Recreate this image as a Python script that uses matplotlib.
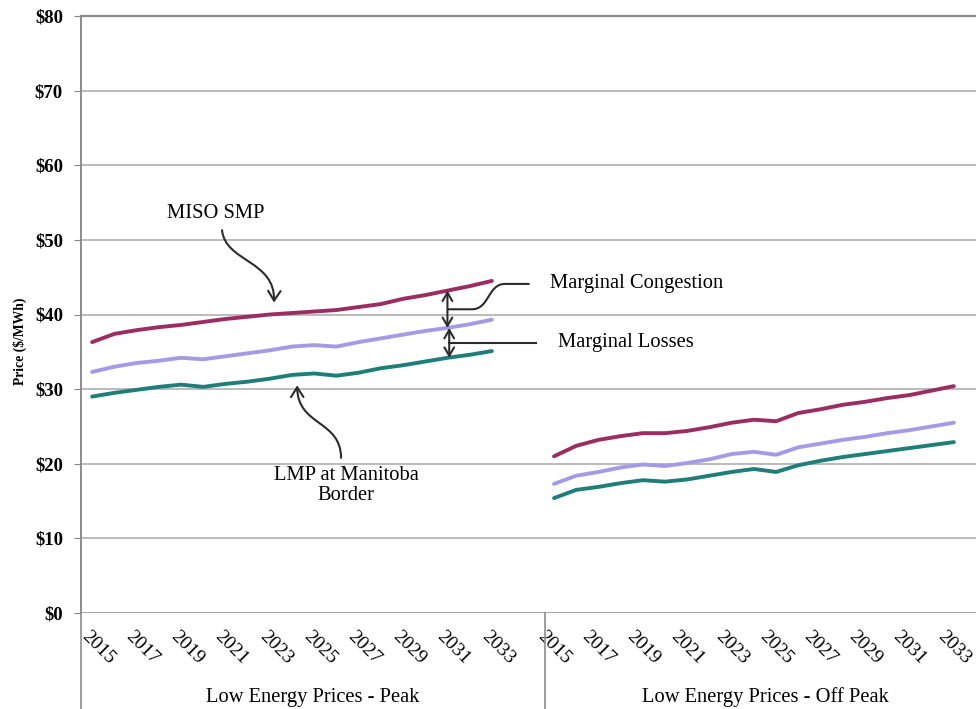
import numpy as np
import matplotlib.pyplot as plt
from matplotlib.path import Path
from matplotlib.patches import FancyArrowPatch, PathPatch
from matplotlib.transforms import ScaledTranslation

plt.rcParams['font.family'] = ['Liberation Serif', 'DejaVu Serif']

# ---------------------------------------------------------------------------
# data ($/MWh)
# ---------------------------------------------------------------------------
years = list(range(2015, 2034))
tick_years = years[::2]
group_names = ['Low Energy Prices - Peak', 'Low Energy Prices - Off Peak']

miso_peak = [36.3, 37.4, 37.9, 38.3, 38.6, 39.0, 39.4, 39.7, 40.0, 40.2,
             40.4, 40.6, 41.0, 41.4, 42.1, 42.6, 43.2, 43.8, 44.5]
loss_peak = [32.3, 33.0, 33.5, 33.8, 34.2, 34.0, 34.4, 34.8, 35.2, 35.7,
             35.9, 35.7, 36.3, 36.8, 37.3, 37.8, 38.2, 38.7, 39.3]
lmp_peak = [29.0, 29.5, 29.9, 30.3, 30.6, 30.3, 30.7, 31.0, 31.4, 31.9,
            32.1, 31.8, 32.2, 32.8, 33.2, 33.7, 34.2, 34.6, 35.1]

miso_off = [21.0, 22.4, 23.2, 23.7, 24.1, 24.1, 24.4, 24.9, 25.5, 25.9,
            25.7, 26.8, 27.3, 27.9, 28.3, 28.8, 29.2, 29.8, 30.4]
loss_off = [17.3, 18.4, 18.9, 19.5, 19.9, 19.7, 20.1, 20.6, 21.3, 21.6,
            21.2, 22.2, 22.7, 23.2, 23.6, 24.1, 24.5, 25.0, 25.5]
lmp_off = [15.4, 16.5, 16.9, 17.4, 17.8, 17.6, 17.9, 18.4, 18.9, 19.3,
           18.9, 19.8, 20.4, 20.9, 21.3, 21.7, 22.1, 22.5, 22.9]

c_miso = '#9B2D62'
c_loss = '#A49BE6'
c_lmp = '#1F7E79'

# category slots: one per year, second group shifted after a divider
offset_off = 20.8
divider = 20.9
x_peak = np.arange(len(years)) + 0.5
x_off = x_peak + offset_off

fig = plt.figure(figsize=(9.76, 7.09), dpi=100)
ax = fig.add_axes([81 / 976, 1 - 613 / 709, 1 - 81 / 976, 597 / 709])

for xs, a, b, c in [(x_peak, miso_peak, loss_peak, lmp_peak),
                    (x_off, miso_off, loss_off, lmp_off)]:
    ax.plot(xs, a, color=c_miso, lw=2.8, solid_capstyle='round')
    ax.plot(xs, b, color=c_loss, lw=2.8, solid_capstyle='round')
    ax.plot(xs, c, color=c_lmp, lw=2.8, solid_capstyle='round')

ax.set_xlim(0, 40.3)
ax.set_ylim(0, 80)

# y axis
yt = np.arange(0, 81, 10)
ax.set_yticks(yt)
ax.set_yticklabels(['\\$%d' % v for v in yt], fontsize=13.5, fontweight='bold')
ax.tick_params(axis='y', length=5, color='#888888', pad=8)
ax.grid(axis='y', color='#a8a8a8', lw=1.1)
ax.set_axisbelow(True)
ax.set_ylabel('Price (\\$/MWh)', fontsize=9.8, fontweight='bold')
ax.yaxis.set_label_coords(-0.06, 0.456)

for s in ['right', 'bottom']:
    ax.spines[s].set_visible(False)
ax.spines['left'].set_color('#8c8c8c')
ax.spines['left'].set_linewidth(1.4)
ax.spines['top'].set_color('#8c8c8c')
ax.spines['top'].set_linewidth(1.6)
ax.axhline(0, color='#a3a3a3', lw=1.3)

# x axis: two-level category labels
tick_pos = [x_peak[years.index(y)] for y in tick_years] + \
           [x_off[years.index(y)] for y in tick_years]
ax.set_xticks(tick_pos)
ax.set_xticklabels([str(y) for y in tick_years] * 2, rotation=-45,
                   ha='center', va='center', rotation_mode='anchor', fontsize=14)
ax.tick_params(axis='x', length=0, pad=25)
# nudge the first group's year labels a little to the right
for lbl in ax.get_xticklabels()[:len(tick_years)]:
    lbl.set_transform(lbl.get_transform() + ScaledTranslation(6 / 100, 0, fig.dpi_scale_trans))

trans = ax.get_xaxis_transform()
for xv in [0, divider]:
    ax.plot([xv, xv], [0, -0.17], transform=trans, color='#8c8c8c',
            lw=1.2, clip_on=False)
ax.text(10.45, -0.141, group_names[0], transform=trans, ha='center',
        va='center', fontsize=14.8)
ax.text(30.8, -0.141, group_names[1], transform=trans, ha='center',
        va='center', fontsize=14.8)

# ---------------------------------------------------------------------------
# annotations
# ---------------------------------------------------------------------------
ink = '#2b2b2b'
ax.text(6.05, 53.5, 'MISO SMP', ha='center', va='center', fontsize=14.8)
arrow_miso = Path([(6.35, 51.3), (6.5, 47.0), (8.75, 47.3), (8.69, 41.6)],
                  [Path.MOVETO, Path.CURVE4, Path.CURVE4, Path.CURVE4])
ax.add_patch(FancyArrowPatch(path=arrow_miso, arrowstyle='->,head_length=7,head_width=4.5',
                             color=ink, lw=1.5))

ax.text(11.95, 17.1, 'LMP at Manitoba\nBorder', ha='center', va='center',
        fontsize=14.8, linespacing=1.1)
arrow_lmp = Path([(11.71, 20.8), (11.7, 25.9), (9.75, 25.0), (9.73, 30.5)],
                 [Path.MOVETO, Path.CURVE4, Path.CURVE4, Path.CURVE4])
ax.add_patch(FancyArrowPatch(path=arrow_lmp, arrowstyle='->,head_length=7,head_width=4.5',
                             color=ink, lw=1.5))

# spread arrows at 2031
i31 = years.index(2031)
xa = x_peak[i31]
ax.annotate('', xy=(xa, miso_peak[i31]), xytext=(xa, loss_peak[i31]),
            arrowprops=dict(arrowstyle='<->,head_length=0.6,head_width=0.35',
                            color=ink, lw=1.5, shrinkA=0, shrinkB=0))
ax.annotate('', xy=(xa + 0.08, loss_peak[i31]), xytext=(xa + 0.08, lmp_peak[i31]),
            arrowprops=dict(arrowstyle='<->,head_length=0.6,head_width=0.35',
                            color=ink, lw=1.5, shrinkA=0, shrinkB=0))

mid_c = (miso_peak[i31] + loss_peak[i31]) / 2
mid_l = (loss_peak[i31] + lmp_peak[i31]) / 2
cong_path = Path([(20.2, 44.1), (19.1, 44.1), (18.3, 44.1), (18.4, mid_c),
                  (17.6, mid_c), (xa, mid_c)],
                 [Path.MOVETO, Path.LINETO, Path.CURVE4, Path.CURVE4,
                  Path.CURVE4, Path.LINETO])
ax.add_patch(PathPatch(cong_path, fill=False, color=ink, lw=1.5))
ax.plot([20.5, xa + 0.08], [mid_l, mid_l], color=ink, lw=1.5)

ax.text(21.1, 44.2, 'Marginal Congestion', ha='left', va='center', fontsize=14.8)
ax.text(21.5, mid_l, 'Marginal Losses', ha='left', va='center', fontsize=14.8)

fig.savefig('out.png', dpi=100)
